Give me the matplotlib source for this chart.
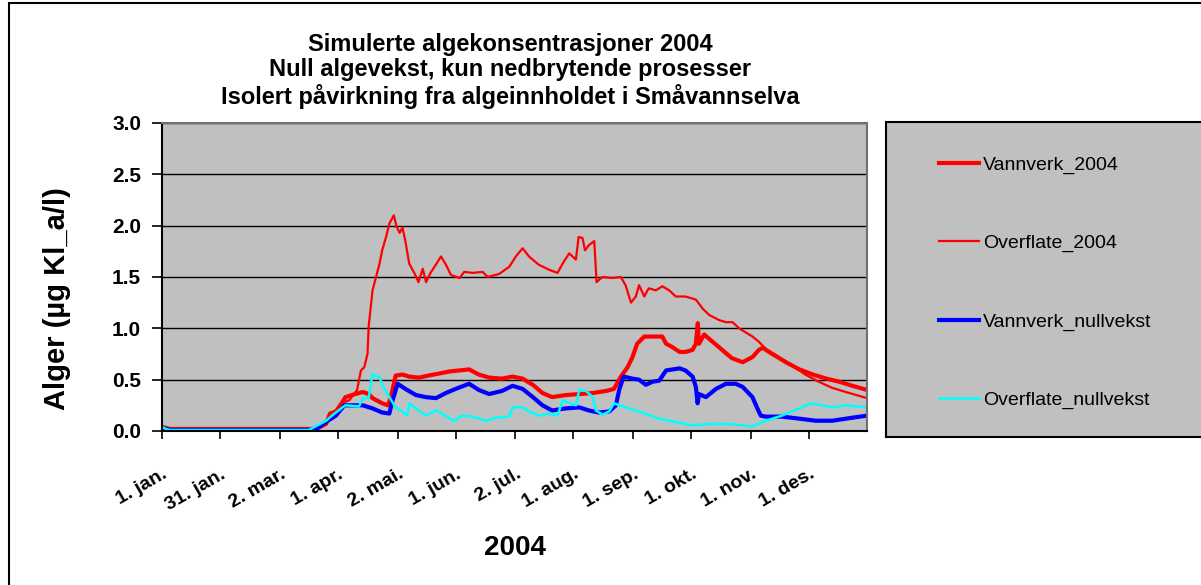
import numpy as np
import matplotlib
matplotlib.use('Agg')
import matplotlib.pyplot as plt
import matplotlib.transforms as mtransforms
from matplotlib.patches import Rectangle

plt.rcParams['font.family'] = ['Liberation Sans', 'DejaVu Sans']

# ---- data (day of year 2004, algae conc.) ----
days_vv04 = [0, 2, 4, 30, 60, 78, 82, 85, 87, 90, 93, 95, 100, 104, 107, 109, 114, 117, 118.5, 121,
             124.5, 128, 133, 138, 143.5, 149, 154, 159, 164, 169.4, 176, 181.5, 186.7, 192, 197, 202,
             209, 216, 223, 230, 234, 237.6, 241, 243.6, 246, 249.7, 254, 259, 261, 264, 268, 271,
             274.7, 276.4, 277.4, 278, 280.7, 285, 290, 295, 300.6, 305.7, 309, 311, 316, 323, 330,
             337, 344, 350.6, 357.5, 365]
vann_2004 = [0.04, 0.03, 0.02, 0.02, 0.02, 0.02, 0.04, 0.07, 0.17, 0.19, 0.27, 0.33, 0.36, 0.38, 0.36,
             0.32, 0.27, 0.25, 0.33, 0.54, 0.55, 0.53, 0.52, 0.54, 0.56, 0.58, 0.59, 0.60, 0.55, 0.52,
             0.51, 0.53, 0.51, 0.45, 0.37, 0.33, 0.35, 0.36, 0.37, 0.39, 0.41, 0.53, 0.62, 0.72, 0.85,
             0.92, 0.92, 0.92, 0.85, 0.82, 0.77, 0.77, 0.79, 0.85, 1.05, 0.85, 0.94, 0.87, 0.79, 0.71,
             0.67, 0.72, 0.79, 0.81, 0.75, 0.67, 0.60, 0.55, 0.51, 0.48, 0.44, 0.40]

days_of04 = [0, 2, 4, 30, 60, 78, 82, 85, 87, 90, 93, 97, 101, 103, 104.7, 106.4, 107, 109, 110.8,
             112.5, 114, 116, 117.7, 120, 121.5, 123, 124.5, 126, 128, 130.6, 132.8, 135, 136.7, 139,
             141.8, 144.4, 147, 149.6, 154, 156.5, 160.8, 166, 168.6, 174.6, 179.8, 183.2, 186.7, 190,
             195, 200.5, 204.8, 207.4, 210.8, 214.3, 215.7, 217.7, 219, 221, 223.8, 225, 228, 233,
             237.6, 240, 242.8, 245.3, 247, 249.7, 252, 255.7, 259, 262.6, 266, 271, 276.4, 280,
             283.3, 288.5, 292, 295.4, 298.8, 305.7, 309, 312.6, 319.5, 326.4, 333, 340, 347, 354, 365]
over_2004 = [0.04, 0.03, 0.02, 0.02, 0.02, 0.02, 0.04, 0.07, 0.17, 0.19, 0.27, 0.30, 0.40, 0.59, 0.62,
             0.75, 1.02, 1.37, 1.50, 1.62, 1.76, 1.89, 2.02, 2.10, 1.99, 1.93, 1.98, 1.85, 1.63, 1.54,
             1.45, 1.58, 1.45, 1.54, 1.62, 1.70, 1.62, 1.52, 1.49, 1.55, 1.54, 1.55, 1.50, 1.53, 1.60,
             1.70, 1.78, 1.70, 1.62, 1.57, 1.54, 1.63, 1.73, 1.67, 1.89, 1.88, 1.76, 1.81, 1.85, 1.45,
             1.50, 1.49, 1.50, 1.42, 1.25, 1.31, 1.42, 1.31, 1.39, 1.37, 1.41, 1.37, 1.31, 1.31, 1.28,
             1.19, 1.13, 1.08, 1.06, 1.06, 1.00, 0.92, 0.87, 0.80, 0.72, 0.64, 0.55, 0.48, 0.42, 0.38,
             0.32]

days_vvnv = [0, 2, 4, 60, 78, 80, 85, 90, 94.4, 98.6, 104, 109, 114, 117.7, 119.4, 122, 126, 131.5,
             136.6, 141.8, 147, 152, 159, 164, 169.4, 176, 181.5, 186.7, 192, 197, 202, 209, 216, 221,
             226, 231.5, 235, 236.7, 239, 243.6, 247, 250.5, 254, 257.4, 261, 268, 271, 274.7, 276.4,
             277.3, 278, 281.6, 286.8, 292, 297, 300.6, 305.7, 308, 310, 312.6, 321, 330, 338.5, 347,
             354, 365]
vann_null = [0.03, 0.02, 0.01, 0.01, 0.01, 0.02, 0.09, 0.15, 0.25, 0.25, 0.25, 0.22, 0.18, 0.17, 0.30,
             0.46, 0.41, 0.35, 0.33, 0.32, 0.37, 0.41, 0.46, 0.40, 0.36, 0.39, 0.44, 0.41, 0.33, 0.25,
             0.20, 0.22, 0.23, 0.20, 0.18, 0.19, 0.25, 0.40, 0.53, 0.51, 0.50, 0.45, 0.48, 0.49, 0.59,
             0.61, 0.59, 0.53, 0.43, 0.27, 0.36, 0.33, 0.41, 0.46, 0.46, 0.43, 0.33, 0.23, 0.15, 0.14,
             0.14, 0.12, 0.10, 0.10, 0.12, 0.15]

days_ofnv = [0, 2, 4, 60, 76, 85, 88, 93.4, 95, 102, 104, 107, 109, 110.8, 112.5, 114, 117.7, 121,
             124.5, 127, 128, 131.5, 136.6, 141.8, 145, 151, 155.6, 160.8, 167.7, 172.9, 179.8, 181.5,
             186.7, 190, 195, 200.5, 204.8, 207.4, 211, 214.3, 216, 219.5, 223, 224.6, 228, 231.5, 234,
             240, 247, 257.4, 268, 274.7, 285, 295.4, 305.7, 312.6, 321, 330, 336, 342, 347, 354, 365]
over_null = [0.04, 0.02, 0.01, 0.01, 0.01, 0.10, 0.15, 0.23, 0.25, 0.24, 0.32, 0.32, 0.56, 0.53, 0.53,
             0.45, 0.33, 0.23, 0.19, 0.15, 0.27, 0.22, 0.15, 0.20, 0.17, 0.10, 0.15, 0.14, 0.10, 0.13,
             0.14, 0.23, 0.23, 0.19, 0.15, 0.17, 0.15, 0.30, 0.27, 0.25, 0.40, 0.39, 0.33, 0.20, 0.16,
             0.19, 0.27, 0.23, 0.19, 0.12, 0.08, 0.055, 0.07, 0.065, 0.045, 0.10, 0.15, 0.22, 0.27,
             0.25, 0.23, 0.25, 0.23]

tick_dates = ['2004-01-01', '2004-01-31', '2004-03-02', '2004-04-01', '2004-05-02', '2004-06-01',
              '2004-07-02', '2004-08-01', '2004-09-01', '2004-10-01', '2004-11-01', '2004-12-01']
tick_labels = ['1. jan.', '31. jan.', '2. mar.', '1. apr.', '2. mai.', '1. jun.',
               '2. jul.', '1. aug.', '1. sep.', '1. okt.', '1. nov.', '1. des.']
series_names = ['Vannverk_2004', 'Overflate_2004', 'Vannverk_nullvekst', 'Overflate_nullvekst']

start = np.datetime64('2004-01-01')
tick_pos = [(np.datetime64(d) - start).astype(int) for d in tick_dates]

W, H = 1201, 585
fig = plt.figure(figsize=(W / 100, H / 100), dpi=100)
ax = fig.add_axes([162 / W, 1 - 431 / H, (867 - 162) / W, (431 - 123) / H])
ax.set_facecolor('#C0C0C0')

ax.plot(days_vv04, vann_2004, color='#FF0000', lw=3.0, label=series_names[0])
ax.plot(days_of04, over_2004, color='#FF0000', lw=1.6, label=series_names[1])
ax.plot(days_vvnv, vann_null, color='#0000FF', lw=3.0, label=series_names[2])
ax.plot(days_ofnv, over_null, color='#00FFFF', lw=1.8, label=series_names[3])

ax.set_xlim(0, 365)
ax.set_ylim(0, 3.0)
ax.set_yticks(np.arange(0, 3.01, 0.5))
ax.set_yticklabels([f'{v:.1f}' for v in np.arange(0, 3.01, 0.5)], fontsize=15, fontweight='bold')
ax.set_xticks(tick_pos)
ax.set_xticklabels(tick_labels, rotation=30, ha='right', va='top', rotation_mode='anchor',
                   fontsize=14, fontweight='bold')
shift = mtransforms.ScaledTranslation(-6 / 100, 0, fig.dpi_scale_trans)
for lbl in ax.get_xticklabels():
    lbl.set_transform(lbl.get_transform() + shift)
ax.tick_params(axis='x', direction='out', length=6, width=1.2, pad=19)
ax.tick_params(axis='y', direction='out', length=7, width=1.2, pad=8)
ax.yaxis.grid(True, color='black', lw=1.0)
ax.set_axisbelow(True)
for s in ['left', 'bottom']:
    ax.spines[s].set_color('black')
    ax.spines[s].set_linewidth(1.5)
for s in ['top', 'right']:
    ax.spines[s].set_color('#707070')
    ax.spines[s].set_linewidth(1.5)

# legend panel
lax = fig.add_axes([886 / W, 1 - 437 / H, 0.27, (437 - 122) / H])
lax.set_facecolor('#C0C0C0')
lax.set_xticks([])
lax.set_yticks([])
for s in lax.spines.values():
    s.set_color('black')
    s.set_linewidth(1.5)
handles, labels = ax.get_legend_handles_labels()
lax.legend(handles, labels, loc='center left', bbox_to_anchor=(53 / (0.27 * W), 0.49),
           frameon=False, fontsize=14, handlelength=2.05, handletextpad=0.2,
           labelspacing=3.12, borderpad=0, borderaxespad=0)

fig.text(510 / W, 1 - 71 / H,
         'Simulerte algekonsentrasjoner 2004\nNull algevekst, kun nedbrytende prosesser\n'
         'Isolert påvirkning fra algeinnholdet i Småvannselva',
         ha='center', va='center', fontsize=17, fontweight='bold', linespacing=1.13)
fig.text(57 / W, 1 - 299 / H, 'Alger (µg Kl_a/l)', rotation=90, ha='center', va='center',
         fontsize=21, fontweight='bold')
fig.text(515 / W, 1 - 548 / H, '2004', ha='center', va='center', fontsize=20, fontweight='bold')

# chart area border (cut at right and bottom like the source)
fig.patches.append(Rectangle((9 / W, -0.1), 1.2, 1 - 3 / H + 0.1, transform=fig.transFigure,
                             fill=False, edgecolor='black', lw=1.5))

fig.savefig('out.png', dpi=100)
